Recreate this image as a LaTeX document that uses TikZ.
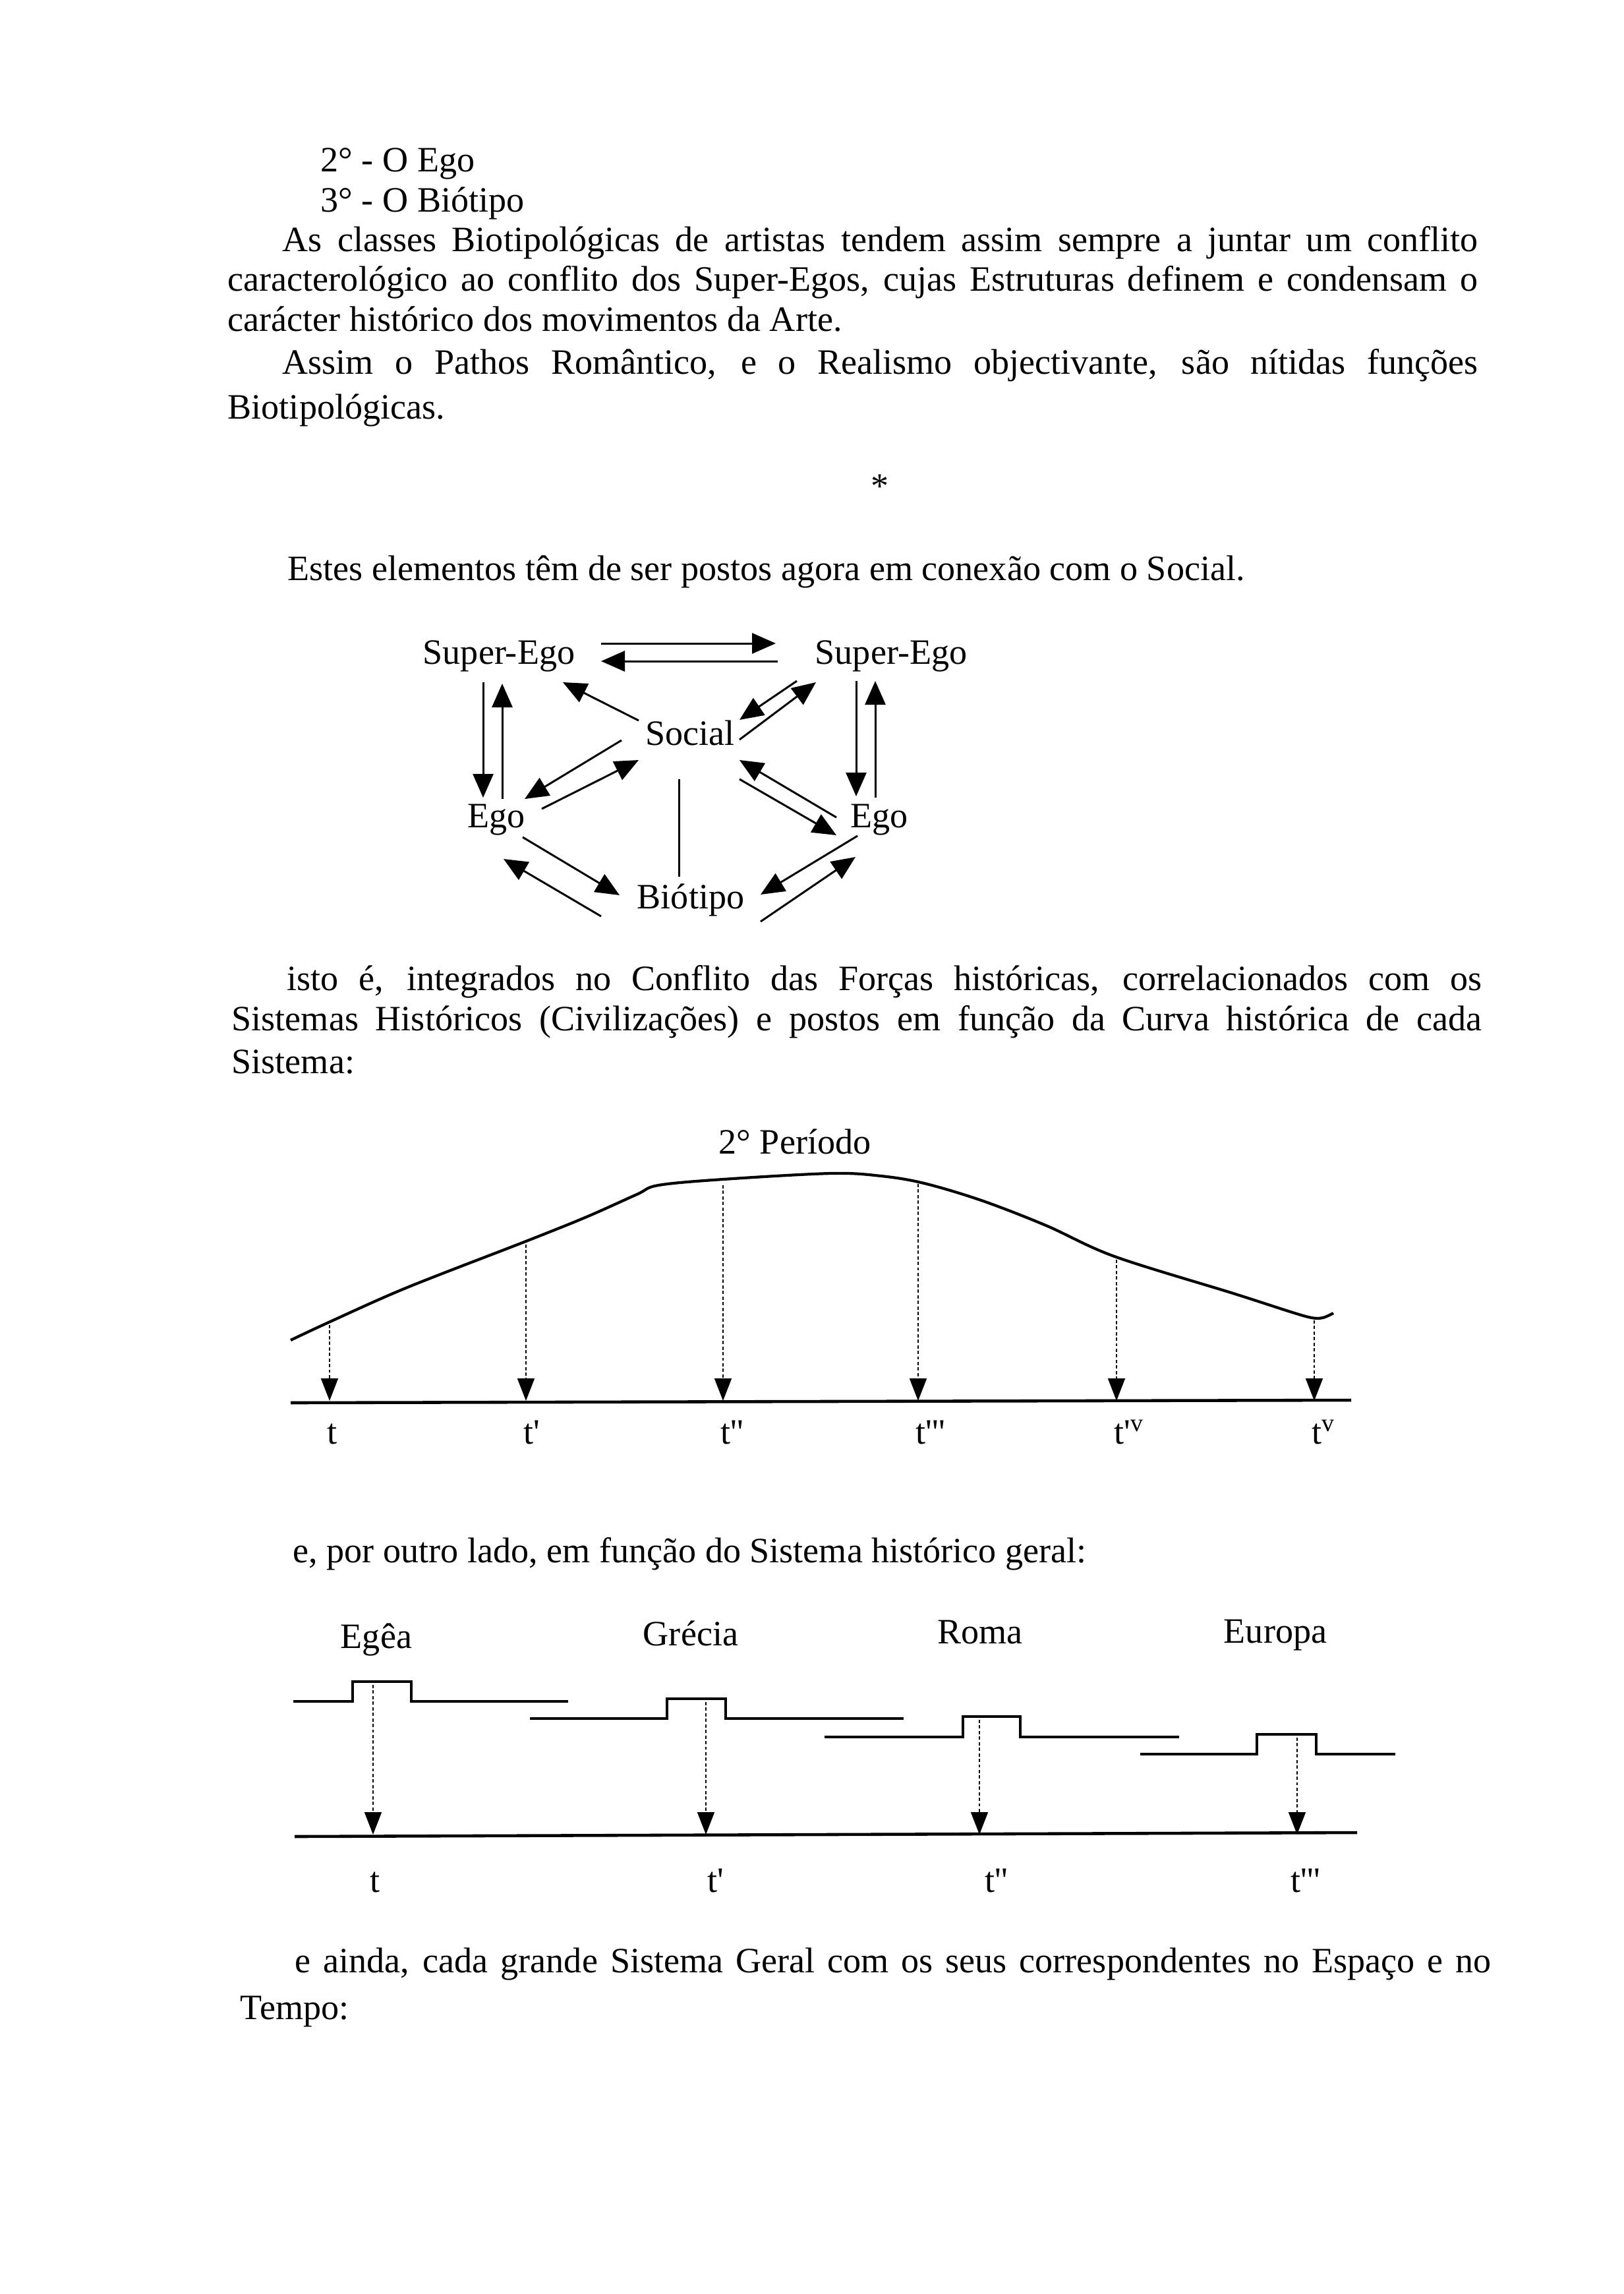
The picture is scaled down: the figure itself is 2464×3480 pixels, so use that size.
\documentclass[tikz,border=0pt]{standalone}
\usepackage{fontspec}
\setmainfont{Liberation Serif}
\usetikzlibrary{arrows.meta,calc}

\newcommand{\pr}{\textquotesingle}

\tikzset{
    txt/.style={anchor=base west, inner sep=0pt, font=\fontsize{15.4}{18}\selectfont},
    lbl/.style={anchor=base, inner sep=0pt, font=\fontsize{15.4}{18}\selectfont},
    bigarr/.style={-{Triangle[length=3.6mm,width=3.1mm]}, line width=0.85pt},
    drop/.style={-{Triangle[length=3.4mm,width=2.6mm]}, dash pattern=on 1.4pt off 1pt, line width=0.5pt},
    axis/.style={line width=1.3pt},
    stepline/.style={line width=0.9pt},
}

\begin{document}
\begin{tikzpicture}[x=0.1mm,y=-0.1mm]
    \useasboundingbox[fill=white] (0,0) rectangle (2464,3480);

    % text before the diagrams
    \node[txt] (l1) at (486,260) {2° - O Ego};
    \node[txt] (l2) at (486,321) {3° - O Biótipo};
    \node[txt] (l3) at (428,381) {\makebox[181.4mm][s]{As classes Biotipológicas de artistas tendem assim sempre a juntar um conflito}};
    \node[txt] (l4) at (345,441) {\makebox[189.7mm][s]{caracterológico ao conflito dos Super-Egos, cujas Estruturas definem e condensam o}};
    \node[txt] (l5) at (345,502) {carácter histórico dos movimentos da Arte.};
    \node[txt] (l6) at (428,567) {\makebox[181.4mm][s]{Assim o Pathos Romântico, e o Realismo objectivante, são nítidas funções}};
    \node[txt] (l7) at (345,635) {Biotipológicas.};
    \node[inner sep=0pt, font=\fontsize{15.4}{18}\selectfont] (star) at (1335,738) {*};
    \node[txt] (l8) at (436,880) {Estes elementos têm de ser postos agora em conexão com o Social.};

    % Super-Ego / Ego / Social / Biotipo
    \node[lbl] (seL) at (757,1007) {Super-Ego};
    \node[lbl] (seR) at (1352,1007) {Super-Ego};
    \node[lbl] (soc) at (1047,1130) {Social};
    \node[lbl] (egoL) at (753,1255) {Ego};
    \node[lbl] (egoR) at (1334,1255) {Ego};
    \node[lbl] (bio) at (1048,1378) {Biótipo};

    \draw[bigarr] ($(seL.base)+(155,-31)$) -- ($(seR.base)+(-175,-31)$);
    \draw[bigarr] ($(seR.base)+(-172,-4)$) -- ($(seL.base)+(155,-4)$);
    \draw[bigarr] ($(seL.base)+(-24,28)$) -- ($(egoL.base)+(-20,-45)$);
    \draw[bigarr] ($(egoL.base)+(9,-43)$) -- ($(seL.base)+(5,30)$);
    \draw[bigarr] ($(seR.base)+(-53,26)$) -- ($(egoR.base)+(-35,-47)$);
    \draw[bigarr] ($(egoR.base)+(-6,-45)$) -- ($(seR.base)+(-24,26)$);
    \draw[bigarr] ($(soc.base)+(-78,-37)$) -- ($(seL.base)+(97,28)$);
    \draw[bigarr] ($(seR.base)+(-143,26)$) -- ($(soc.base)+(75,-38)$);
    \draw[bigarr] ($(soc.base)+(75,-8)$) -- ($(seR.base)+(-114,28)$);
    \draw[bigarr] ($(soc.base)+(-104,-7)$) -- ($(egoL.base)+(43,-43)$);
    \draw[bigarr] ($(egoL.base)+(69,-28)$) -- ($(soc.base)+(-78,23)$);
    \draw[bigarr] ($(egoR.base)+(-65,-15)$) -- ($(soc.base)+(75,23)$);
    \draw[bigarr] ($(soc.base)+(75,52)$) -- ($(egoR.base)+(-65,12)$);
    \draw[line width=0.85pt] ($(soc.base)+(-17,52)$) -- ($(bio.base)+(-18,-48)$);
    \draw[bigarr] ($(egoL.base)+(40,15)$) -- ($(bio.base)+(-108,-20)$);
    \draw[bigarr] ($(bio.base)+(-136,12)$) -- ($(egoL.base)+(11,48)$);
    \draw[bigarr] ($(egoR.base)+(-33,13)$) -- ($(bio.base)+(106,-21)$);
    \draw[bigarr] ($(bio.base)+(106,20)$) -- ($(egoR.base)+(-36,45)$);

    \node[txt] (l9) at (435,1502) {\makebox[181.3mm][s]{isto é, integrados no Conflito das Forças históricas, correlacionados com os}};
    \node[txt] (l10) at (351,1563) {\makebox[189.7mm][s]{Sistemas Históricos (Civilizações) e postos em função da Curva histórica de cada}};
    \node[txt] (l11) at (351,1628) {Sistema:};

    % curva historica
    \node[lbl] (periodo) at (1206,1750) {2° Período};
    \draw[line width=1.2pt] plot[smooth, tension=0.55] coordinates {(441,2033) (503,2004) (618,1953) (798,1883) (890,1846) (966,1812) (999,1798) (1097,1789) (1261,1780) (1337,1784) (1402,1795) (1489,1821) (1587,1859) (1691,1906) (1871,1962) (1958,1990) (1990,1999) (2007,1999) (2023,1992)};
    \coordinate (axA0) at (441,2128);
    \coordinate (axA1) at (2050,2124);
    \draw[axis] (axA0) -- (axA1);
    \foreach \x/\y/\lab [count=\i] in {500/2010/t, 798/1888/t\pr, 1097/1798/t\pr\pr, 1393/1796/t\pr\pr\pr, 1694/1911/t\pr\textsuperscript{v}, 1994/2003/t\textsuperscript{v}} {
        \coordinate (top\i) at (\x,\y);
        \coordinate (foot\i) at (\x,2125);
        \draw[drop] (top\i) -- (foot\i);
        \node[txt] (t\i) at (\x-4,2190) {\lab};
    }

    \node[txt] (l12) at (444,2370) {e, por outro lado, em função do Sistema histórico geral:};

    % sistema historico geral
    \node[lbl] (egea) at (571,2500) {Egêa};
    \node[lbl] (grecia) at (1048,2496) {Grécia};
    \node[lbl] (roma) at (1487,2493) {Roma};
    \node[lbl] (europa) at (1935,2492) {Europa};
    \foreach \a/\b/\c/\d/\lo/\hi in {445/535/624/862/2581/2551, 804/1012/1101/1371/2607/2577, 1251/1461/1548/1789/2635/2604, 1730/1907/1997/2117/2661/2631} {
        \draw[stepline] (\a,\lo) -- (\b,\lo) -- (\b,\hi) -- (\c,\hi) -- (\c,\lo) -- (\d,\lo);
    }
    \coordinate (axB0) at (447,2786);
    \coordinate (axB1) at (2059,2780);
    \draw[axis] (axB0) -- (axB1);
    \foreach \x/\y/\tx/\lab [count=\i] in {566/2556/561/t, 1071/2582/1073/t\pr, 1486/2609/1494/t\pr\pr, 1968/2636/1958/t\pr\pr\pr} {
        \coordinate (peak\i) at (\x,\y);
        \coordinate (base\i) at (\x,2783);
        \draw[drop] (peak\i) -- (base\i);
        \node[txt] (s\i) at (\tx,2870) {\lab};
    }

    \node[txt] (l13) at (447,2992) {\makebox[181.5mm][s]{e ainda, cada grande Sistema Geral com os seus correspondentes no Espaço e no}};
    \node[txt] (l14) at (364,3063) {Tempo:};
\end{tikzpicture}
\end{document}
